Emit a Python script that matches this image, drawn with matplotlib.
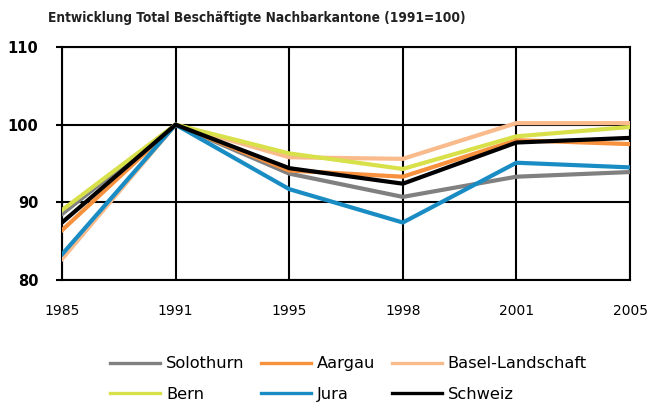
import matplotlib
matplotlib.use("Agg")
import matplotlib.pyplot as plt

years = ["1985", "1991", "1995", "1998", "2001", "2005"]
solothurn = [88.5, 100, 93.7, 90.7, 93.3, 93.9]
aargau = [86.4, 100, 94.1, 93.3, 98.0, 97.5]
basel_l = [82.7, 100, 95.8, 95.6, 100.2, 100.2]
bern = [89.0, 100, 96.3, 94.3, 98.5, 99.7]
jura = [83.3, 100, 91.7, 87.4, 95.1, 94.5]
schweiz = [87.4, 100, 94.4, 92.4, 97.7, 98.3]

series = [
    ("Solothurn", solothurn, "#808080"),
    ("Aargau", aargau, "#F7913D"),
    ("Basel-Landschaft", basel_l, "#F9BB8C"),
    ("Bern", bern, "#D8E04A"),
    ("Jura", jura, "#1A8CC4"),
    ("Schweiz", schweiz, "#000000"),
]

plt.rcParams['font.family'] = ['DejaVu Sans']
fig = plt.figure(figsize=(6.65, 4.09), dpi=100)
ax = fig.add_axes([62/665, 1-280/409, (630-62)/665, (280-47)/409])

x = list(range(len(years)))
handles = {}
for name, vals, col in series:
    h, = ax.plot(x, vals, color=col, lw=3.0, label=name, zorder=3)
    handles[name] = h

ax.set_xlim(0, len(years) - 1)
ax.set_ylim(80, 110)
ax.set_yticks([80, 90, 100, 110])
ax.set_xticks(x)
ax.set_xticklabels(years, fontsize=10)
ax.set_yticklabels(["80", "90", "100", "110"], fontsize=10.5, fontweight='bold')
ax.tick_params(axis='y', length=4, width=1.5, pad=13, color='black')
ax.tick_params(axis='x', length=0, pad=17)
ax.grid(True, color='black', lw=1.5, zorder=1)
for s in ax.spines.values():
    s.set_color('black')
    s.set_linewidth(1.5)

fig.text(48/665, 1-18/409, "Entwicklung Total Beschäftigte Nachbarkantone (1991=100)",
         fontsize=9.8, fontweight='bold', color='#222222', va='center', ha='left',
         family='DejaVu Sans', fontstretch='condensed')

order = ["Solothurn", "Bern", "Aargau", "Jura", "Basel-Landschaft", "Schweiz"]
leg = fig.legend([handles[n] for n in order], order, ncol=3, frameon=False,
                 loc='center left', bbox_to_anchor=(110/665, 1-379/409), fontsize=11.7,
                 handlelength=3.1, columnspacing=1.0, labelspacing=0.95, handletextpad=0.35,
                 borderaxespad=0, borderpad=0)
for lh in leg.legend_handles:
    lh.set_linewidth(2.4)

fig.savefig("out.png", dpi=100)
